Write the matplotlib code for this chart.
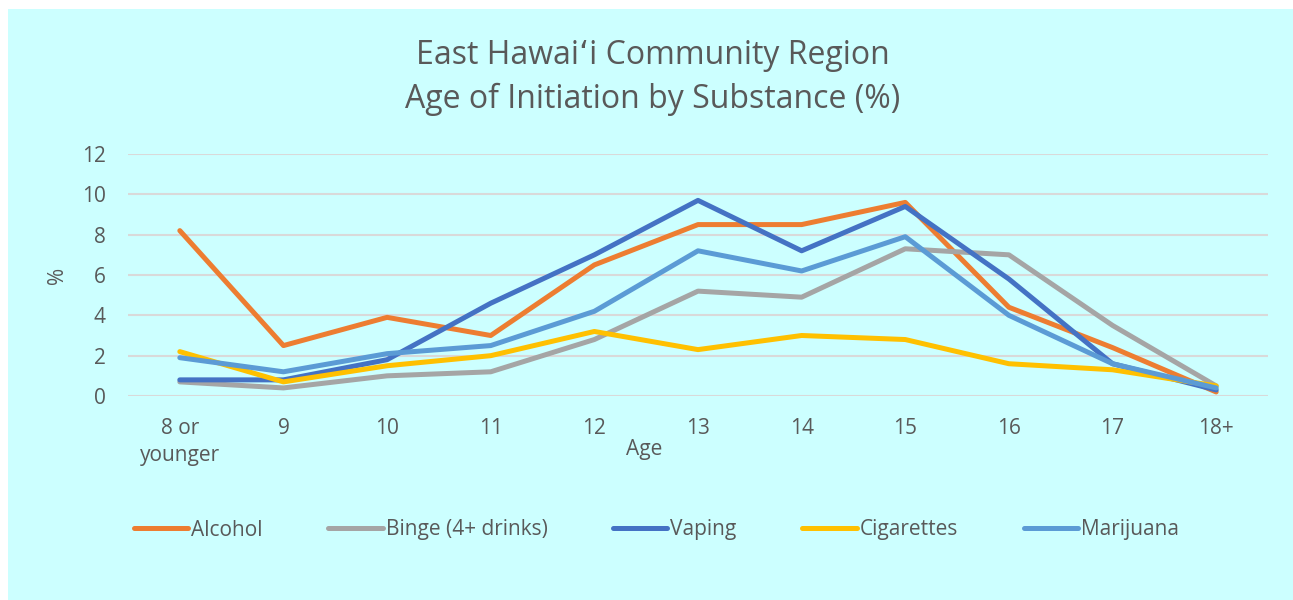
import matplotlib
matplotlib.use("Agg")
import matplotlib.pyplot as plt
import numpy as np

# age of first use, share of students (%)
ages = ["8 or\nyounger", "9", "10", "11", "12", "13", "14", "15", "16", "17", "18+"]
alcohol = [8.2, 2.5, 3.9, 3.0, 6.5, 8.5, 8.5, 9.6, 4.4, 2.4, 0.2]
binge = [0.7, 0.4, 1.0, 1.2, 2.8, 5.2, 4.9, 7.3, 7.0, 3.5, 0.5]
vaping = [0.8, 0.8, 1.8, 4.6, 7.0, 9.7, 7.2, 9.4, 5.8, 1.6, 0.3]
cigarettes = [2.2, 0.7, 1.5, 2.0, 3.2, 2.3, 3.0, 2.8, 1.6, 1.3, 0.5]
marijuana = [1.9, 1.2, 2.1, 2.5, 4.2, 7.2, 6.2, 7.9, 4.0, 1.6, 0.4]

series = [
    ("Alcohol", alcohol, "#ED7D31"),
    ("Binge (4+ drinks)", binge, "#A5A5A5"),
    ("Vaping", vaping, "#4472C4"),
    ("Cigarettes", cigarettes, "#FFC000"),
    ("Marijuana", marijuana, "#5B9BD5"),
]

BG = "#CCFFFF"
TXT = "#595959"
plt.rcParams["font.family"] = ["Open Sans", "DejaVu Sans"]

W, H = 1293, 600
fig = plt.figure(figsize=(W / 100, H / 100), dpi=100)
fig.patch.set_facecolor("white")
fig.patches.append(plt.Rectangle((8 / W, 0), 1, 1 - 9 / H, transform=fig.transFigure,
                                 facecolor=BG, edgecolor="none", zorder=-10))

ax = fig.add_axes([128 / W, 1 - 396 / H, (1268 - 128) / W, (396 - 154) / H])
ax.patch.set_alpha(0)

x = np.arange(len(ages))
for name, vals, col in series:
    ax.plot(x, vals, color=col, lw=3.6, label=name,
            solid_capstyle="round", solid_joinstyle="round")

ax.set_xlim(-0.5, len(ages) - 0.5)
ax.set_ylim(0, 12)
ax.set_yticks(range(0, 13, 2))
ax.set_xticks(x)
ax.set_xticklabels(ages, va="top", linespacing=1.35)
ax.yaxis.grid(True, color="#D9D9D9", lw=1.5)
ax.set_axisbelow(True)
for s in ax.spines.values():
    s.set_visible(False)
ax.tick_params(axis="both", length=0, labelsize=15, colors=TXT)
ax.tick_params(axis="x", pad=16)
ax.tick_params(axis="y", pad=16)

fig.text(644 / W, 1 - 455 / H, "Age", ha="center", va="baseline", fontsize=15, color=TXT)
fig.text(58 / W, 1 - 275 / H, "%", ha="center", va="center", rotation=90,
         fontsize=15, color=TXT)
fig.text(653 / W, 1 - 64 / H, "East Hawaiʻi Community Region",
         ha="center", va="baseline", fontsize=23, color=TXT)
fig.text(653 / W, 1 - 108 / H, "Age of Initiation by Substance (%)",
         ha="center", va="baseline", fontsize=23, color=TXT)

leg = ax.legend(loc="center left", bbox_to_anchor=(134 / W, 1 - 530 / H),
                bbox_transform=fig.transFigure, ncol=5, frameon=False,
                fontsize=15, handlelength=2.6, handletextpad=0.15,
                columnspacing=3.15, borderaxespad=0, borderpad=0)
for t in leg.get_texts():
    t.set_color(TXT)

fig.savefig("out.png", dpi=100, facecolor=fig.get_facecolor())
